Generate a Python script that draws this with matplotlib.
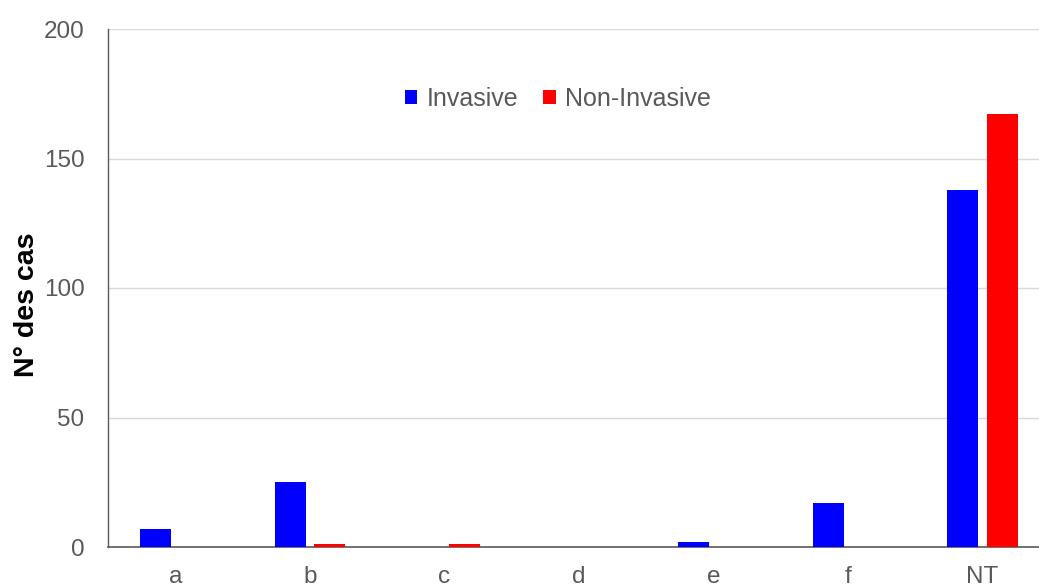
import matplotlib
matplotlib.use("Agg")
import matplotlib.pyplot as plt
import numpy as np

categories = ["a", "b", "c", "d", "e", "f", "NT"]
invasive = [7, 25, 0, 0, 2, 17, 138]
non_invasive = [0, 1, 1, 0, 0, 0, 167]
y_ticks = [0, 50, 100, 150, 200]

plt.rcParams['font.family'] = ['Liberation Sans', 'DejaVu Sans']

W, H = 1039, 587
fig = plt.figure(figsize=(W / 100, H / 100), dpi=100)
left, right, top, bottom = 108, 1039, 29, 547
ax = fig.add_axes([left / W, (H - bottom) / H, (right - left) / W, (bottom - top) / H])

x = np.arange(len(categories))
bw = 0.232
off = 0.146
ax.bar(x - off, invasive, bw, color="#0000FF", label="Invasive", zorder=3)
ax.bar(x + off, non_invasive, bw, color="#FF0000", label="Non-Invasive", zorder=3)

ax.set_xlim(-0.502, 6.42)
ax.set_ylim(0, 200)
ax.set_yticks(y_ticks)
ax.set_xticks(x)
ax.set_xticklabels(categories)
ax.tick_params(axis="both", length=0, labelsize=17.5, colors="#595959")
ax.tick_params(axis="y", pad=17)
ax.tick_params(axis="x", pad=14)
ax.yaxis.grid(True, color="#D9D9D9", linewidth=1, zorder=0)
ax.set_axisbelow(True)
for s in ["top", "right"]:
    ax.spines[s].set_visible(False)
ax.spines["left"].set_color("#595959")
ax.spines["bottom"].set_color("#595959")
ax.spines["left"].set_linewidth(1)
ax.spines["bottom"].set_linewidth(1.2)

ax.set_ylabel("N° des cas", fontsize=20.5, fontweight="bold", color="black")
ax.yaxis.set_label_coords((40 - left) / (right - left), (bottom - 305) / (bottom - top))

leg = ax.legend(loc="center", bbox_to_anchor=(0.483, 0.865), ncol=2, frameon=False,
                fontsize=18, handlelength=0.5, handleheight=0.5, handletextpad=0.36,
                columnspacing=1.0, labelcolor="#595959", borderpad=0)

fig.savefig("out.png", dpi=100)
